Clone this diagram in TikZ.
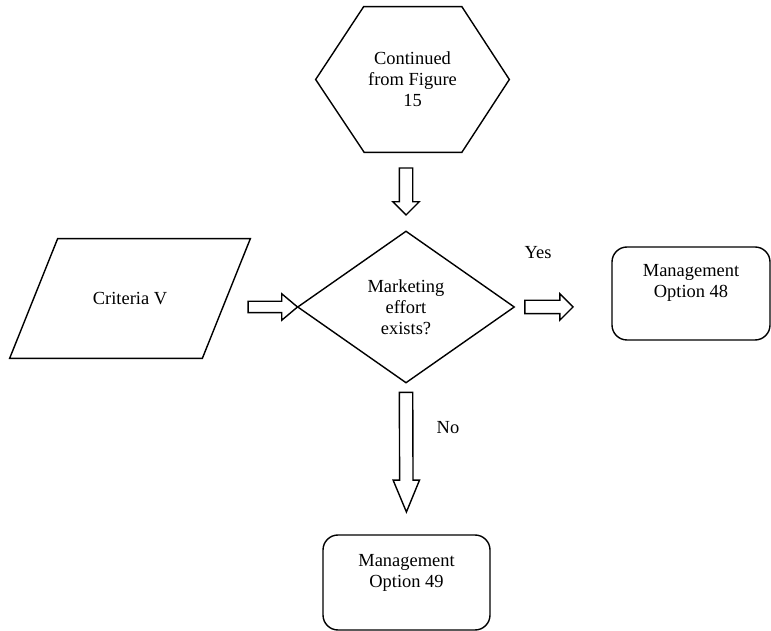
\documentclass[tikz,border=0pt]{standalone}
\usepackage{fontspec}
\setmainfont{Liberation Serif}
\usetikzlibrary{positioning,calc,shapes.geometric,shapes.arrows}
\tikzset{
    every node/.style = {font=\fontsize{10.5pt}{12pt}\selectfont},
    flow-line/.style = {draw, line width=0.8pt},
    hex-box/.style = {inner sep=0pt, align=center, minimum width=3.86cm, minimum height=2.9cm},
    input-box/.style = {inner sep=0pt, minimum width=4.8cm, minimum height=2.38cm},
    decision-box/.style = {draw, diamond, line width=0.8pt, inner sep=0pt, aspect=1.43, align=center, minimum width=4.34cm, minimum height=3.04cm},
    option-box/.style = {draw, rectangle, rounded corners=0.3cm, line width=0.8pt, minimum width=3.34cm, minimum height=1.9cm},
    option-text/.style = {align=center, inner sep=0pt, anchor=north},
    block-arrow/.style = {single arrow, draw, fill=white, line width=0.8pt, inner xsep=0pt, inner ysep=0.12cm, single arrow head extend=0.13cm, single arrow tip angle=90},
}
\newcommand{\blockarrow}[5][]{%
    \path let \p1=($(#2)!#4!(#3)$), \p2=($(#3)!#5!(#2)$),
        \n1={veclen(\x2-\x1,\y2-\y1)}, \n2={atan2(\y2-\y1,\x2-\x1)} in
        node[block-arrow, minimum height=\n1, rotate=\n2, anchor=tail, #1] at (\p1) {};
}

\begin{document}
\begin{tikzpicture}
\useasboundingbox (0,0) rectangle (15.42,12.62);

\node[hex-box] (hex) at (8.25,11.03) {Continued\\from Figure\\15};
\draw[flow-line] (hex.west) -- ([xshift=0.96cm]hex.north west) -- ([xshift=-0.95cm]hex.north east)
    -- (hex.east) -- ([xshift=-0.95cm]hex.south east) -- ([xshift=0.97cm]hex.south west) -- cycle;

\node[input-box] (crit) at (2.6,6.65) {Criteria V};
\draw[flow-line] (crit.south west) -- ([xshift=0.96cm]crit.north west) -- (crit.north east)
    -- ([xshift=-0.96cm]crit.south east) -- cycle;

\node[decision-box] (dec) at (8.12,6.48) {Marketing\\effort\\exists?};

\node[option-box, minimum width=3.16cm, minimum height=1.86cm] (opt48) at (13.82,6.75) {};
\node[option-text, below=0.36cm] (opt48-text) at (opt48.north) {Management\\Option 48};

\node[option-box] (opt49) at (8.13,0.97) {};
\node[option-text, below=0.4cm] (opt49-text) at (opt49.north) {Management\\Option 49};

\node (yes) at (10.76,7.56) {Yes};
\node (no) at (8.96,4.06) {No};

\coordinate (hex-out) at (dec.north |- hex.south);
\coordinate (crit-out) at (crit.east |- dec.west);
\coordinate (opt48-in) at (opt48.west |- dec.east);

\blockarrow{hex-out}{dec.north}{0.3cm}{0.32cm}
\blockarrow[inner ysep=0.1cm, single arrow head extend=0.15cm, single arrow tip angle=80]{crit-out}{dec.west}{-0.06cm}{0cm}
\blockarrow{dec.east}{opt48-in}{0.18cm}{0.78cm}
\blockarrow[single arrow tip angle=45]{dec.south}{opt49.north}{0.16cm}{0.46cm}
\end{tikzpicture}
\end{document}
